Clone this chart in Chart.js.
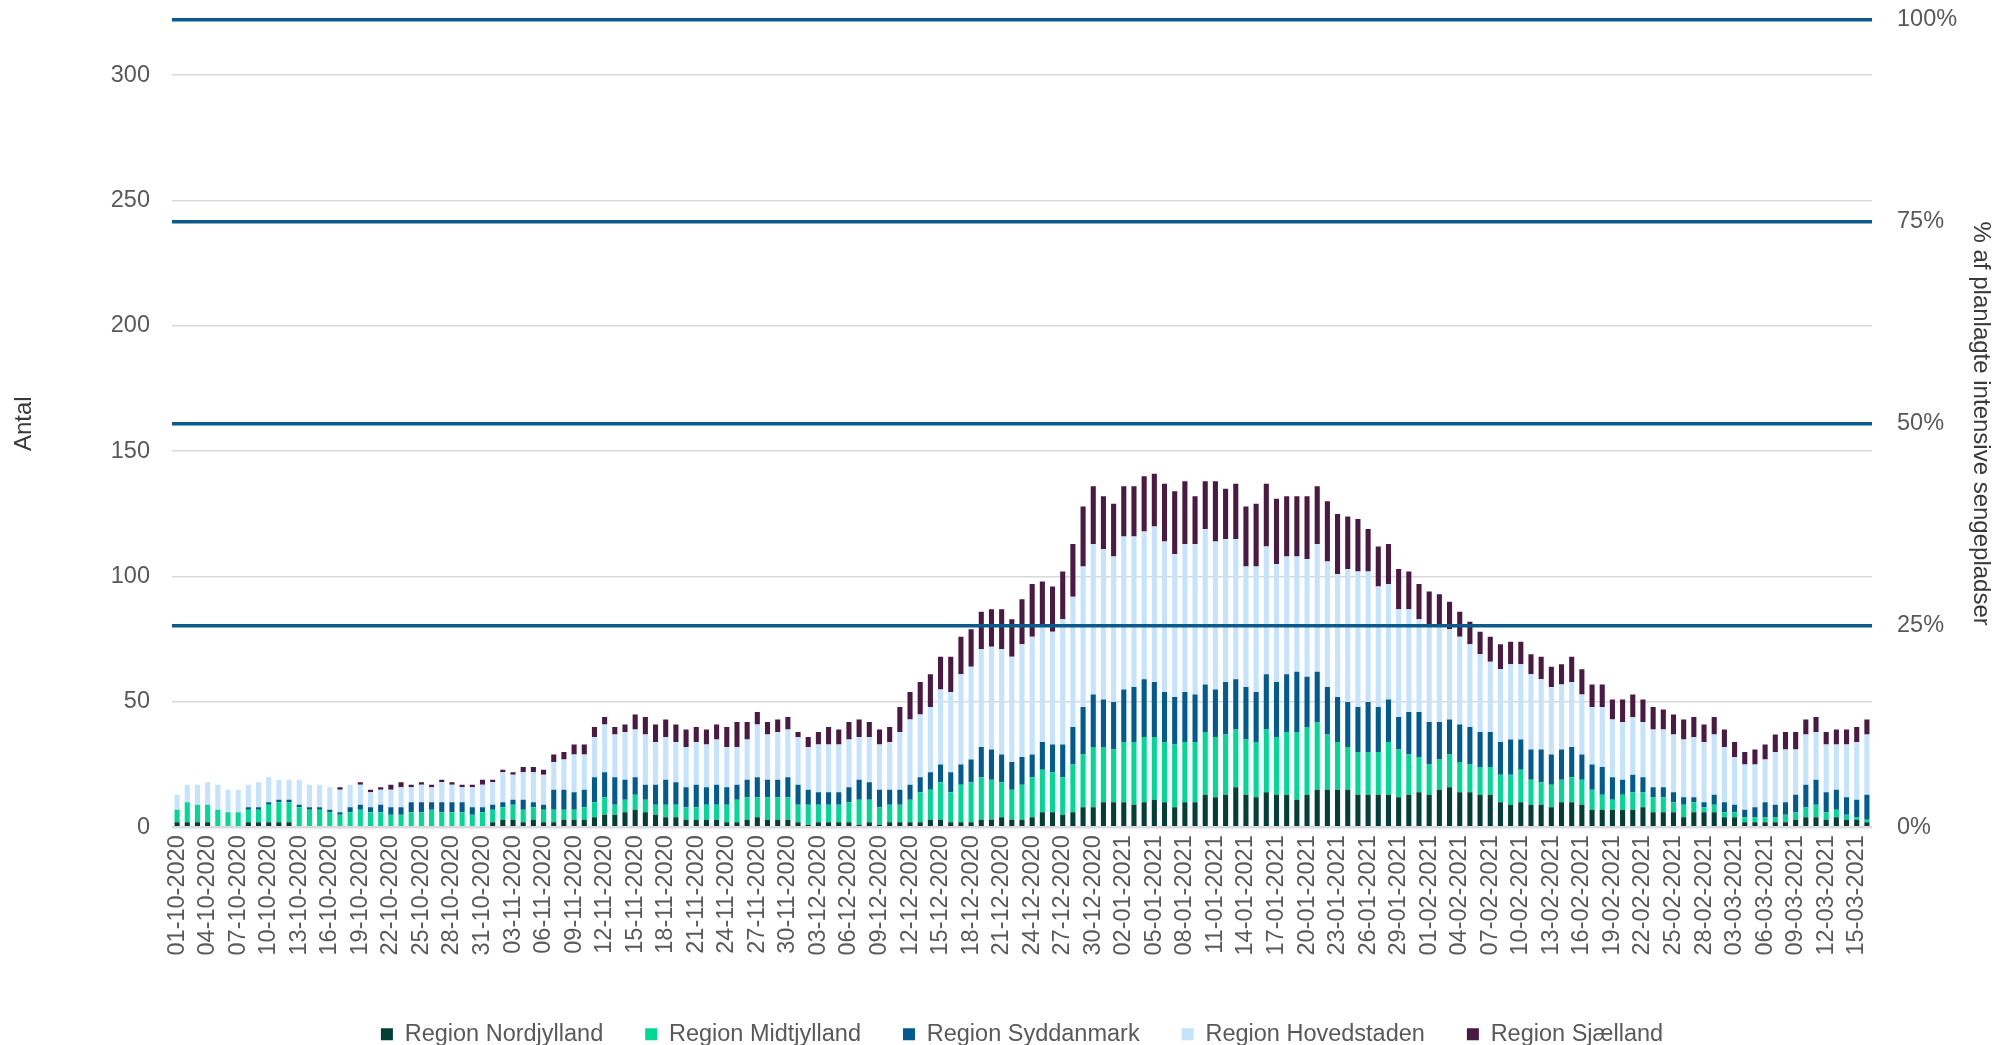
<!DOCTYPE html>
<html>
<head>
<meta charset="utf-8">
<script src="https://cdn.jsdelivr.net/npm/chart.js@4.4.1/dist/chart.umd.min.js"></script>
<style>
  html, body { margin: 0; padding: 0; background: #ffffff; }
  #wrap { width: 2000px; height: 1045px; }
</style>
</head>
<body>
<div id="wrap"><canvas id="chart"></canvas></div>
<script>
// dagligt antal indlagte på intensiv, 01-10-2020 til 16-03-2021
const firstDay = '2020-10-01';
const dayCount = 167;

const nordjylland = [
  2,2,2,2,0,0,0,2,2,2,
  2,2,0,0,0,0,0,0,0,0,
  0,0,0,0,0,0,0,0,0,0,
  0,2,3,3,2,3,2,2,3,3,
  3,4,5,5,6,7,6,5,4,4,
  3,3,3,3,2,2,3,4,3,3,
  3,2,1,2,2,2,2,1,2,1,
  2,2,2,2,3,3,2,2,2,3,
  3,4,3,3,4,6,6,5,6,8,
  8,10,10,10,9,10,11,10,8,10,
  10,13,12,13,16,13,12,14,13,13,
  11,13,15,15,15,15,13,13,13,13,
  12,13,14,13,15,16,14,14,13,13,
  10,9,10,9,9,8,10,10,9,7,
  7,7,7,7,8,6,6,6,4,6,
  6,6,4,4,2,2,2,2,2,3,
  4,4,3,4,3,3,2
];
const midtjylland = [
  5,8,7,7,7,6,6,5,5,7,
  8,8,8,7,7,6,5,6,7,6,
  6,5,5,6,6,7,6,6,6,5,
  6,5,5,6,5,5,5,5,4,4,
  5,6,7,4,5,6,5,4,5,5,
  5,5,6,6,7,9,9,8,9,9,
  9,7,8,7,7,7,8,10,9,7,
  7,7,9,12,12,15,12,15,16,17,
  16,14,12,14,16,17,16,15,19,21,
  24,22,21,24,25,26,25,24,25,24,
  24,25,24,24,23,22,22,25,23,25,
  27,27,27,22,19,17,17,17,17,21,
  19,16,14,12,12,13,12,11,11,11,
  11,12,13,10,9,9,9,10,10,8,
  6,4,6,7,6,6,6,4,5,4,
  2,3,2,2,2,2,2,2,3,3,
  4,5,3,3,2,1,1
];
const syddanmark = [
  0,0,0,0,0,0,0,1,1,1,
  1,1,1,1,1,1,1,2,2,2,
  3,3,3,4,4,3,4,4,4,3,
  2,2,2,2,4,2,2,8,8,7,
  7,10,10,11,8,7,6,8,10,9,
  8,9,7,8,7,6,7,8,7,7,
  8,8,6,5,5,5,6,8,7,7,
  6,6,6,6,7,7,8,8,9,12,
  12,11,11,11,9,11,11,13,15,19,
  21,19,19,21,22,23,22,20,19,20,
  19,19,19,21,20,21,20,22,22,23,
  24,20,20,19,18,18,18,20,18,17,
  13,17,18,17,15,14,15,15,14,14,
  13,14,12,12,13,12,12,12,10,10,
  11,9,6,7,6,4,4,4,3,2,
  2,4,4,3,3,4,6,5,5,7,
  9,10,8,8,7,7,10
];
const hovedstaden = [
  6,7,8,9,10,9,9,9,10,10,
  8,8,10,9,9,9,9,9,8,6,
  6,7,8,6,7,6,8,7,6,8,
  9,9,12,10,11,12,12,11,12,15,
  14,16,19,17,19,19,20,17,17,16,
  16,17,17,18,16,15,16,21,18,19,
  19,19,17,19,19,19,19,17,18,18,
  19,23,26,25,26,30,32,36,37,39,
  41,42,42,45,47,46,45,50,52,56,
  60,60,58,61,60,59,62,60,57,59,
  60,62,59,57,56,48,50,51,47,47,
  46,47,51,50,49,53,54,52,48,46,
  43,41,37,39,38,36,35,33,31,28,
  29,30,30,30,28,27,26,26,24,23,
  24,23,23,23,22,23,23,23,23,24,
  24,24,22,19,18,17,17,21,21,18,
  20,19,19,18,21,23,24
];
const sjaelland = [
  0,0,0,0,0,0,0,0,0,0,
  0,0,0,0,0,0,1,0,1,1,
  1,2,2,1,1,1,1,1,1,1,
  2,1,1,1,2,2,2,3,3,4,
  4,4,3,3,3,6,7,7,7,7,
  7,6,6,6,8,10,7,5,5,5,
  5,2,4,5,7,6,7,7,6,6,
  6,10,11,13,13,13,14,15,15,15,
  15,16,15,18,21,18,18,19,21,24,
  23,21,21,20,20,22,21,23,25,25,
  19,19,24,20,22,24,25,25,26,24,
  24,25,23,24,24,21,21,17,16,16,
  16,15,14,13,13,11,10,9,9,10,
  10,9,9,8,9,8,8,10,10,9,
  9,8,9,9,9,9,8,8,8,8,
  7,7,7,6,5,6,6,7,7,7,
  6,6,5,6,6,6,6
];

const regionNames = ['Region Nordjylland', 'Region Midtjylland', 'Region Syddanmark', 'Region Hovedstaden', 'Region Sjælland'];
const regionColors = ['#033f37', '#00d896', '#005b90', '#c5e3fc', '#4a1a42'];

// planlagte intensive sengepladser = 100%
const plannedBeds = 322;
const countTicks = [0, 50, 100, 150, 200, 250, 300];
const percentTicks = [0, 25, 50, 75, 100];

function makeLabels() {
    const labels = [];
    const d = new Date(firstDay + 'T00:00:00Z');
    for (let i = 0; i < dayCount; i++) {
        const dd = String(d.getUTCDate()).padStart(2, '0');
        const mm = String(d.getUTCMonth() + 1).padStart(2, '0');
        labels.push(dd + '-' + mm + '-' + d.getUTCFullYear());
        d.setUTCDate(d.getUTCDate() + 1);
    }
    return labels;
}

// no automatic label overflow padding, the plot area is placed by hand
function noPadding(scale) {
    scale.paddingTop = 0;
    scale.paddingBottom = 0;
    scale.paddingLeft = 0;
    scale.paddingRight = 0;
}

const seriesList = [nordjylland, midtjylland, syddanmark, hovedstaden, sjaelland];
const gray = '#595959';
const font = { family: '"Liberation Sans", Arial, sans-serif', size: 23.5 };

new Chart(document.getElementById('chart'), {
    type: 'bar',
    data: {
        labels: makeLabels(),
        datasets: seriesList.map((values, i) => ({
            label: regionNames[i],
            data: values,
            backgroundColor: regionColors[i],
            borderWidth: 0,
            barPercentage: 0.5,
            categoryPercentage: 1.0,
            yAxisID: 'y'
        }))
    },
    options: {
        responsive: true,
        maintainAspectRatio: false,
        animation: false,
        layout: { padding: { top: 20, bottom: -11, left: 0, right: 0 } },
        scales: {
            x: {
                stacked: true,
                afterFit: scale => { noPadding(scale); scale.height += 17; },
                grid: { display: false, drawTicks: false },
                border: { display: false },
                ticks: {
                    autoSkip: false,
                    maxRotation: 90,
                    minRotation: 90,
                    padding: 8,
                    color: gray,
                    font: font,
                    callback: function (value, index) {
                        return index % 3 === 0 ? this.getLabelForValue(value) : '';
                    }
                }
            },
            y: {
                stacked: true,
                min: 0,
                max: plannedBeds,
                afterBuildTicks: scale => { scale.ticks = countTicks.map(v => ({ value: v })); },
                afterFit: scale => { noPadding(scale); scale.width = 172; },
                grid: {
                    color: '#d9d9d9',
                    lineWidth: ctx => ctx.tick && ctx.tick.value === 0 ? 2.5 : 1.5,
                    drawTicks: false
                },
                border: { display: false },
                ticks: { padding: 22, color: gray, font: font },
                title: {
                    display: true,
                    text: 'Antal',
                    color: '#3a3a3a',
                    font: { family: font.family, size: 24 },
                    padding: { top: 10, bottom: 0 }
                }
            },
            y2: {
                position: 'right',
                min: 0,
                max: 100,
                afterBuildTicks: scale => { scale.ticks = percentTicks.map(v => ({ value: v })); },
                afterFit: scale => { noPadding(scale); scale.width = 128; },
                grid: {
                    z: 1,
                    drawTicks: false,
                    lineWidth: 3.5,
                    color: ctx => ctx.tick && ctx.tick.value > 0 ? '#0b5a8b' : 'rgba(0,0,0,0)'
                },
                border: { display: false },
                ticks: { padding: 25, color: gray, font: font, callback: v => v + '%' },
                title: {
                    display: true,
                    text: '% af planlagte intensive sengepladser',
                    color: '#3a3a3a',
                    font: { family: font.family, size: 24 },
                    padding: { top: 5, bottom: 0 }
                }
            }
        },
        plugins: {
            legend: {
                position: 'bottom',
                fullSize: false,
                labels: {
                    boxWidth: 12,
                    boxHeight: 12,
                    padding: 42,
                    color: gray,
                    font: font
                }
            },
            tooltip: { enabled: false }
        }
    }
});
</script>
</body>
</html>
